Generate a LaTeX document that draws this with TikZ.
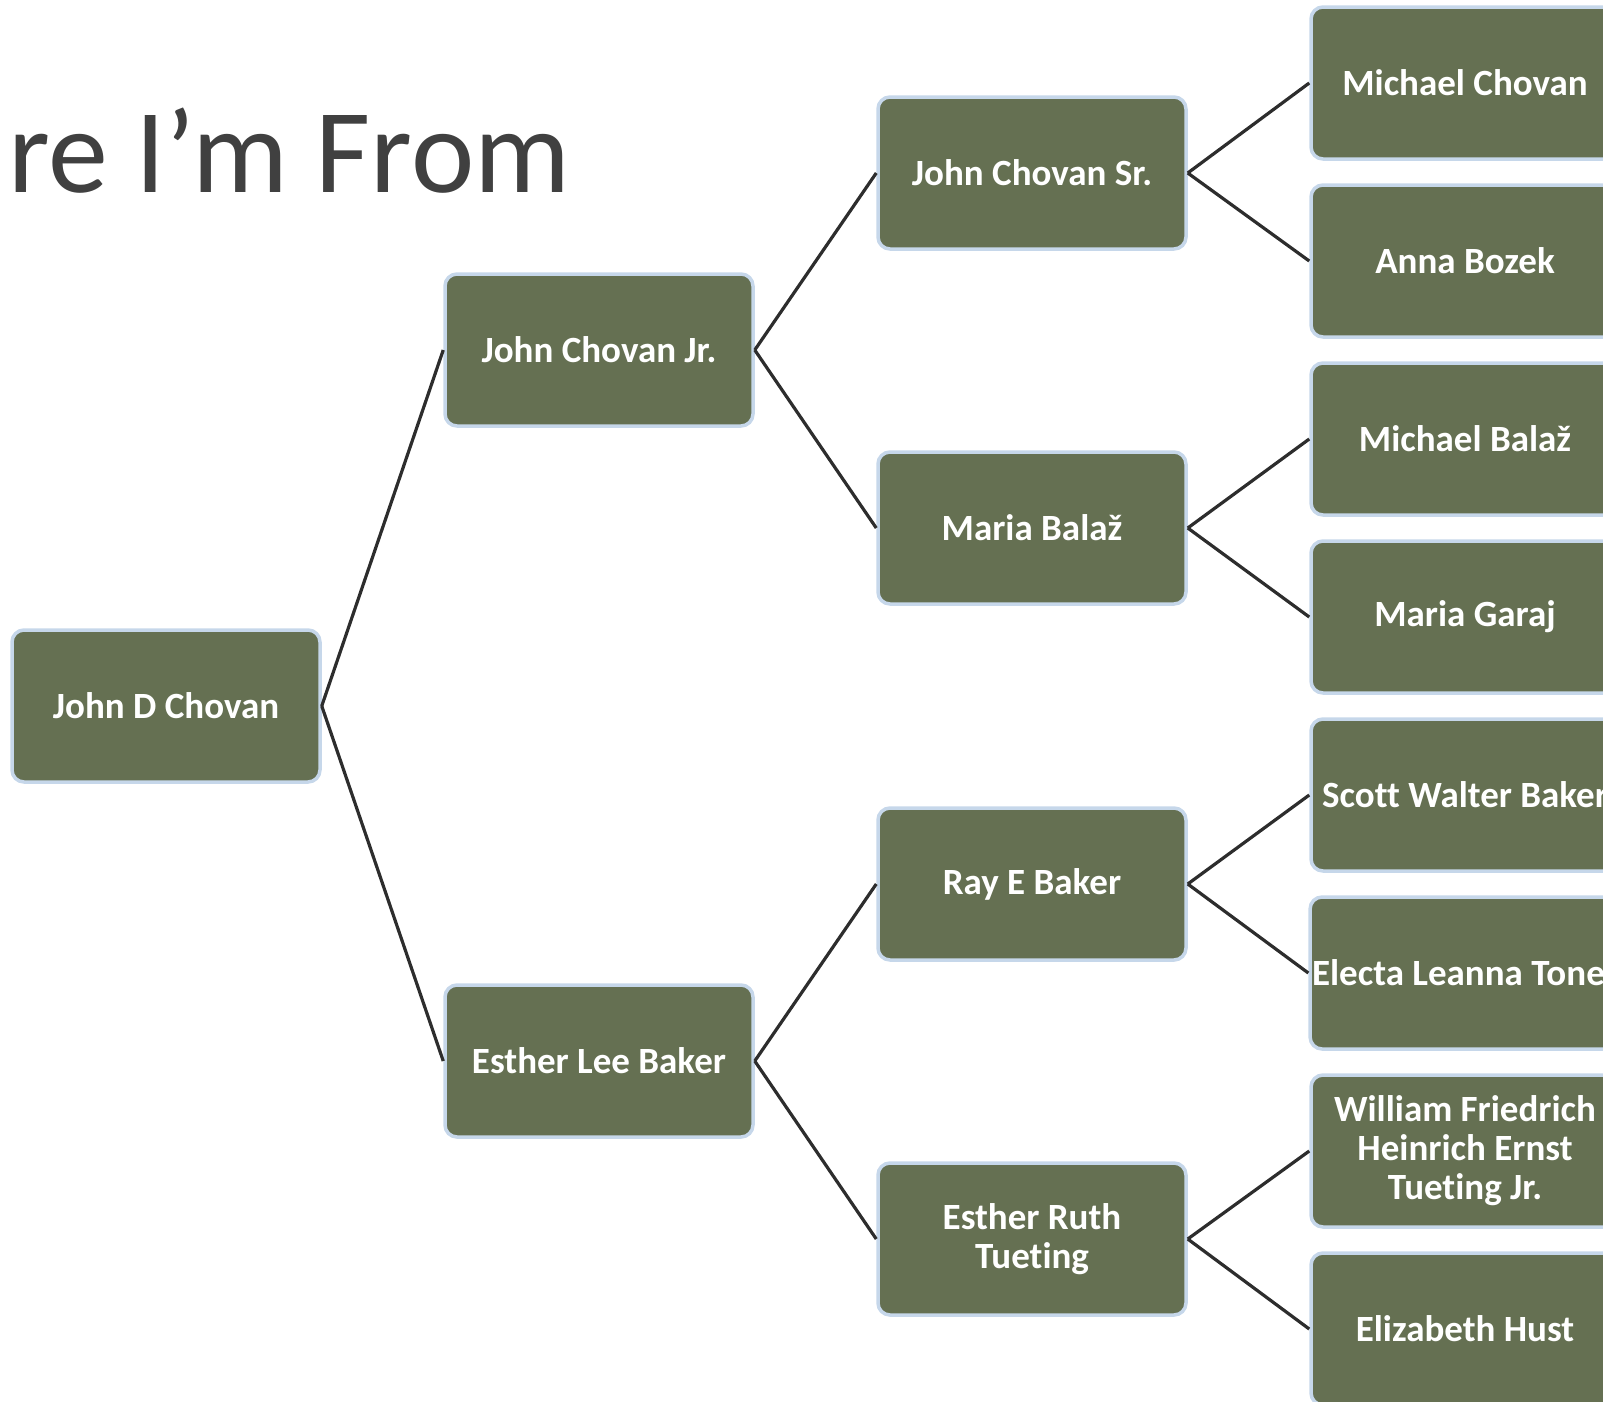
\documentclass[tikz,border=0pt]{standalone}
\usepackage{fontspec}
\setmainfont{Carlito}[Ligatures=NoCommon]
\definecolor{boxFill}{RGB}{101,112,82}
\definecolor{boxEdge}{RGB}{198,215,234}
\definecolor{lineGray}{RGB}{45,45,45}
\definecolor{titleGray}{RGB}{64,64,64}
\begin{document}
\begin{tikzpicture}
[x=1pt,y=-1pt,
  lineDecorate/.style={-,line width=3.2pt,draw=lineGray},%
  nodeDecorate/.style={shape=rectangle,rounded corners=12pt,fill=boxFill,draw=boxEdge,line width=3.5pt,
    minimum width=308pt,minimum height=152pt,inner sep=2pt,align=center,text=white,
    font=\fontsize{37}{39}\selectfont\bfseries}]
\useasboundingbox (0,0) rectangle (1603,1401);
\clip (0,0) rectangle (1603,1401);
%% title
\node (title) at (8,192) [anchor=base west,inner sep=0pt,text=titleGray,
  font=\fontsize{120}{130}\selectfont] {re I’m From};
%% nodes or vertices
\foreach \nodename/\x/\y/\name in {
  jdc/166/706/John D Chovan,
  jcjr/599/350/John Chovan Jr., elb/599/1061/Esther Lee Baker,
  jcsr/1032/173/John Chovan Sr., mba/1032/528/Maria Balaž,
  reb/1032/884/Ray E Baker, ert/1032/1239/Esther Ruth\\Tueting,
  mch/1465/83/Michael Chovan, abo/1465/261/Anna Bozek,
  mbz/1465/439/Michael Balaž, mga/1465/617/Maria Garaj,
  swb/1465/795/Scott Walter Baker, elt/1465/973/Electa Leanna Toner,
  wft/1465/1151/William Friedrich\\Heinrich Ernst\\Tueting Jr., ehu/1465/1329/Elizabeth Hust}
{
  \node (\nodename) at (\x,\y) [nodeDecorate] {\name};
}
%% edges or lines
\path
\foreach \startnode/\endnode in {
  jdc/jcjr, jdc/elb, jcjr/jcsr, jcjr/mba, elb/reb, elb/ert,
  jcsr/mch, jcsr/abo, mba/mbz, mba/mga, reb/swb, reb/elt, ert/wft, ert/ehu}
{
  (\startnode.east) edge[lineDecorate] (\endnode.west)
};
\end{tikzpicture}
\end{document}
